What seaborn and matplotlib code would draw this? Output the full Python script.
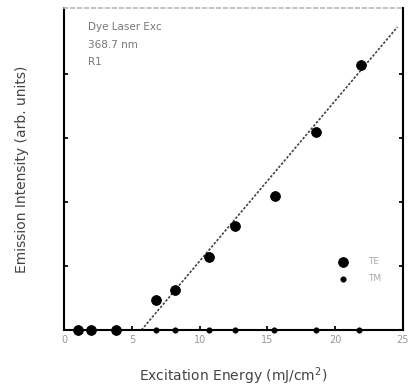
import numpy as np
import pandas as pd
import seaborn as sns
import matplotlib.pyplot as plt

# data
te_energy = [1.0, 2.0, 3.8, 6.8, 8.2, 10.7, 12.6, 15.6, 18.6, 21.9]
te_intensity = [0.0, 0.0, 0.0, 0.47, 0.62, 1.14, 1.63, 2.09, 3.09, 4.14]
tm_energy = [1.0, 2.0, 3.8, 6.8, 8.2, 10.7, 12.6, 15.5, 18.6, 21.8]
tm_intensity = [0.0, 0.0, 0.0, 0.0, 0.0, 0.0, 0.0, 0.0, 0.0, 0.0]
fit_energy = [5.7, 24.6]
fit_intensity = [0.0, 4.73]
x_ticks = [0, 5, 10, 15, 20, 25]
y_ticks = [1, 2, 3, 4]

sns.set_theme(style="ticks")
plt.rcParams['font.family'] = ['DejaVu Sans']

df_te = pd.DataFrame({'E': te_energy, 'I': te_intensity})
df_tm = pd.DataFrame({'E': tm_energy, 'I': tm_intensity})
df_fit = pd.DataFrame({'E': fit_energy, 'I': fit_intensity})

fig = plt.figure(figsize=(4.14, 3.92), dpi=100)
ax = fig.add_axes([0.155, 0.158, 0.818, 0.822])

# fit line (dotted)
sns.lineplot(data=df_fit, x='E', y='I', ax=ax, color='#444444', lw=1.2,
             linestyle=(0, (1.5, 1)), zorder=2)
sns.scatterplot(data=df_te, x='E', y='I', ax=ax, color='black', s=50,
                edgecolor='black', label='TE', zorder=3, clip_on=False)
sns.scatterplot(data=df_tm, x='E', y='I', ax=ax, color='black', s=16,
                edgecolor='black', label='TM', zorder=4, clip_on=False)

ax.set_xlim(0, 25)
ax.set_ylim(0, 5.03)
ax.set_xticks(x_ticks)
ax.set_yticks(y_ticks)
ax.set_yticklabels([])
ax.tick_params(direction='in', length=3, right=True, colors='black',
               labelcolor='#999999', labelsize=7)
for s in ['left', 'right', 'bottom']:
    ax.spines[s].set_linewidth(1.5)
    ax.spines[s].set_color('black')
ax.spines['top'].set_color('#bbbbbb')
ax.spines['top'].set_linestyle((0, (2, 2)))

ax.set_xlabel('Excitation Energy (mJ/cm$^2$)', fontsize=10, color='#444444', labelpad=15)
ax.set_ylabel('Emission Intensity (arb. units)', fontsize=10, color='#444444', labelpad=22)

ax.text(0.07, 0.955, 'Dye Laser Exc\n368.7 nm\nR1', transform=ax.transAxes,
        fontsize=7.5, color='#777777', va='top', linespacing=1.9)

ax.legend(loc='lower right', bbox_to_anchor=(0.96, 0.12), frameon=False,
          fontsize=6.5, handletextpad=1.8, labelcolor='#aaaaaa', labelspacing=0.9)

fig.savefig('out.png', dpi=100)
